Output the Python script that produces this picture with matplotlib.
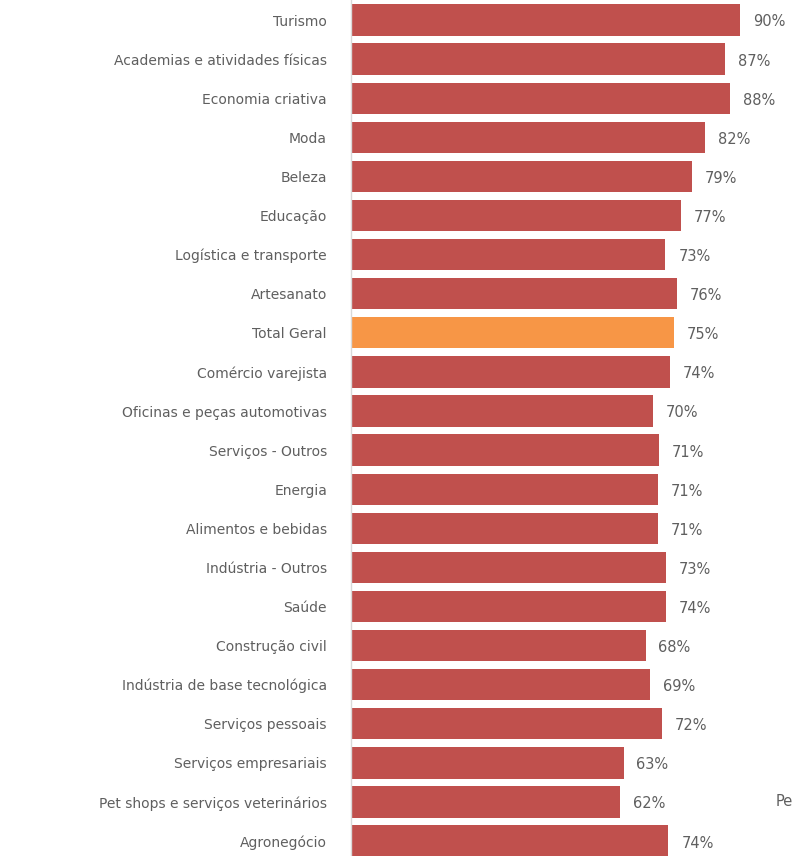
import matplotlib
matplotlib.use("Agg")
import matplotlib.pyplot as plt

categories = [
    "Turismo", "Academias e atividades físicas", "Economia criativa", "Moda",
    "Beleza", "Educação", "Logística e transporte", "Artesanato", "Total Geral",
    "Comércio varejista", "Oficinas e peças automotivas", "Serviços - Outros",
    "Energia", "Alimentos e bebidas", "Indústria - Outros", "Saúde",
    "Construção civil", "Indústria de base tecnológica", "Serviços pessoais",
    "Serviços empresariais", "Pet shops e serviços veterinários", "Agronegócio",
]
values = [90.0, 86.6, 87.7, 81.9, 78.9, 76.4, 72.7, 75.4, 74.7, 73.8, 69.9,
          71.3, 70.9, 70.9, 72.8, 72.8, 68.1, 69.2, 71.9, 63.0, 62.2, 73.4]
value_labels = ["90%", "87%", "88%", "82%", "79%", "77%", "73%", "76%", "75%",
                "74%", "70%", "71%", "71%", "71%", "73%", "74%", "68%", "69%",
                "72%", "63%", "62%", "74%"]
highlight = "Total Geral"

RED = "#C0504D"
ORANGE = "#F79646"
TXT = "#5F5F5F"

W, H = 793, 856
fig = plt.figure(figsize=(W / 100, H / 100), dpi=100)
ax_left = 352 / W
ax_w = 431 / W
ax = fig.add_axes([ax_left, 0, ax_w, 1])

pitch = 39.1
top_c = 20.0
y0 = -top_c / pitch
y1 = (H - top_c) / pitch

pos = list(range(len(categories)))
colors = [ORANGE if c == highlight else RED for c in categories]
ax.barh(pos, values, height=0.8, color=colors, zorder=2)
ax.set_xlim(0, 100)
ax.set_ylim(y1, y0)

for p, v, lab in zip(pos, values, value_labels):
    ax.text(v + 3.0, p + 0.05, lab, va="center", ha="left", fontsize=10.5,
            color=TXT, clip_on=False)

ax.set_yticks(pos)
ax.set_yticklabels(categories, fontsize=11.5)
ax.tick_params(axis="y", length=0, pad=17, labelcolor=TXT)
ax.set_xticks([])
for s in ["top", "right", "bottom"]:
    ax.spines[s].set_visible(False)
ax.spines["left"].set_color("#D9D9D9")
ax.spines["left"].set_linewidth(1.0)
ax.spines["left"].set_position(("outward", 1))

fig.text(776 / W, 1 - 802 / H, "Pe", fontsize=10.5, color=TXT,
         ha="left", va="center")

fig.savefig("out.png", dpi=100)
